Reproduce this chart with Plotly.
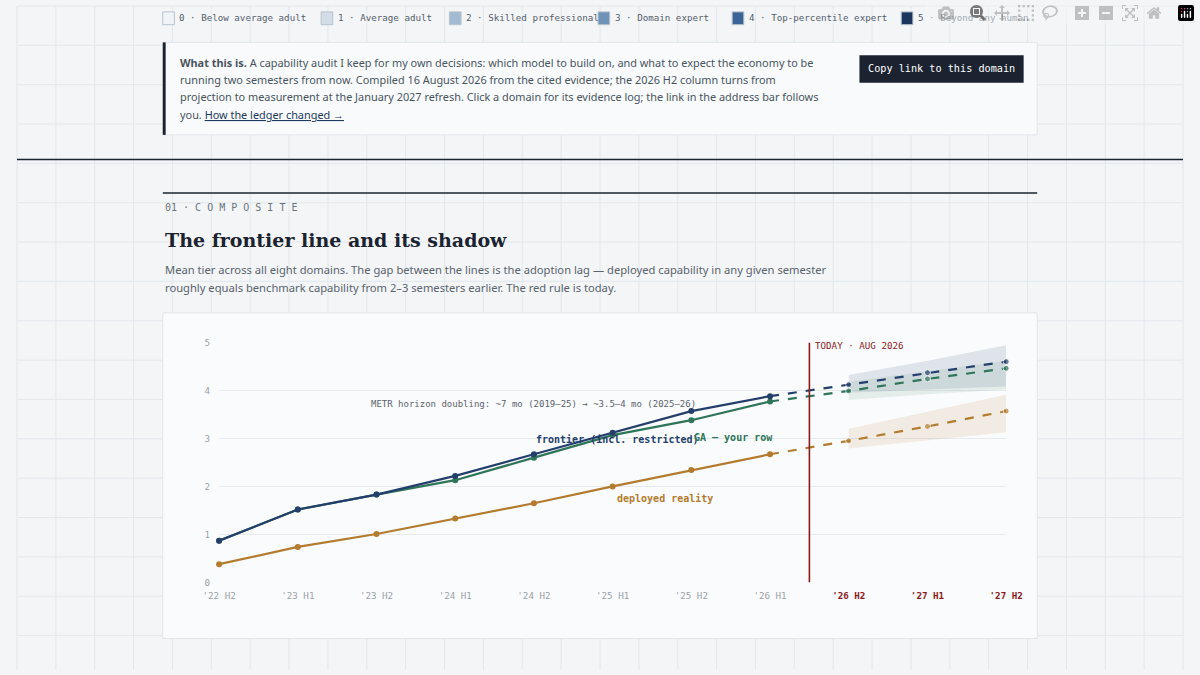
import plotly.graph_objects as go

# semesters
semesters = ["'22 H2", "'23 H1", "'23 H2", "'24 H1", "'24 H2", "'25 H1",
             "'25 H2", "'26 H1", "'26 H2", "'27 H1", "'27 H2"]
n_measured = 8  # '22 H2 .. '26 H1 measured, the rest projected

frontier = [0.87, 1.52, 1.83, 2.22, 2.67, 3.12, 3.57, 3.88, 4.12, 4.37, 4.60]
ga_row = [0.87, 1.52, 1.83, 2.13, 2.60, 3.07, 3.38, 3.77, 3.99, 4.24, 4.46]
deployed = [0.38, 0.74, 1.01, 1.33, 1.65, 2.00, 2.34, 2.67, 2.95, 3.25, 3.57]

# projection bands for '26 H2 .. '27 H2
frontier_lo = [3.95, 4.02, 4.08]
frontier_hi = [4.32, 4.62, 4.94]
ga_lo = [3.80, 3.92, 4.02]
ga_hi = [4.18, 4.40, 4.62]
deployed_lo = [2.79, 2.96, 3.13]
deployed_hi = [3.20, 3.55, 3.91]

tier_labels = ["0 · Below average adult", "1 · Average adult", "2 · Skilled professional",
               "3 · Domain expert", "4 · Top-percentile expert", "5 · Beyond any human"]
tier_colors = ["#f1f4f6", "#d3dde7", "#a2bad2", "#6f92b7", "#3b6496", "#1c355c"]

NAVY = "#243f6b"
GREEN = "#2e7559"
ORANGE = "#b37b2e"
RED = "#8c1c1c"
MONO = "DejaVu Sans Mono"
SANS = "Noto Sans"
SERIF = "DejaVu Serif"
W, H = 1200, 675


def px(x):
    return x / W


def py(y):
    return 1 - y / H


fig = go.Figure()
xs = list(range(len(semesters)))
proj_x = xs[n_measured:]

# bands
for lo, hi, col in [(frontier_lo, frontier_hi, "rgba(36,63,107,0.12)"),
                    (ga_lo, ga_hi, "rgba(46,117,89,0.10)"),
                    (deployed_lo, deployed_hi, "rgba(179,123,46,0.12)")]:
    fig.add_trace(go.Scatter(x=proj_x + proj_x[::-1], y=hi + lo[::-1], fill="toself",
                             fillcolor=col, line=dict(width=0), mode="lines",
                             hoverinfo="skip", showlegend=False))

for series, col in [(deployed, ORANGE), (ga_row, GREEN), (frontier, NAVY)]:
    fig.add_trace(go.Scatter(x=xs[:n_measured], y=series[:n_measured], mode="lines+markers",
                             line=dict(color=col, width=2.2), marker=dict(size=6, color=col),
                             showlegend=False, cliponaxis=False))
    fig.add_trace(go.Scatter(x=xs[n_measured - 1:], y=series[n_measured - 1:], mode="lines+markers",
                             line=dict(color=col, width=2.2, dash="dash"),
                             marker=dict(size=[0] + [6] * (len(xs) - n_measured), color=col),
                             showlegend=False, cliponaxis=False))

ticktext = [s if i < n_measured else f"<span style='color:{RED}'><b>{s}</b></span>"
            for i, s in enumerate(semesters)]

shapes = []
# page grid
for gx in range(0, W + 1, 40):
    shapes.append(dict(type="line", xref="paper", yref="paper", x0=px(gx), x1=px(gx), y0=0, y1=1,
                       line=dict(color="#e3e8ec", width=1), layer="below"))
for gy in range(0, H + 1, 40):
    shapes.append(dict(type="line", xref="paper", yref="paper", x0=0, x1=1, y0=py(gy), y1=py(gy),
                       line=dict(color="#e3e8ec", width=1), layer="below"))
# tier legend swatches
swatch_x = [150, 313, 445, 598, 736, 910]
for sx, c in zip(swatch_x, tier_colors):
    shapes.append(dict(type="rect", xref="paper", yref="paper", x0=px(sx), x1=px(sx + 12),
                       y0=py(19), y1=py(6), fillcolor=c, line=dict(color="#b9c3cc", width=1), layer="below"))
# info box
shapes += [
    dict(type="rect", xref="paper", yref="paper", x0=px(150), x1=px(1050), y0=py(131), y1=py(37),
         fillcolor="#f8fafb", line=dict(color="#e1e6ea", width=1), layer="below"),
    dict(type="rect", xref="paper", yref="paper", x0=px(150), x1=px(153), y0=py(131), y1=py(37),
         fillcolor="#1b2330", line=dict(width=0), layer="below"),
    dict(type="rect", xref="paper", yref="paper", x0=px(867), x1=px(1036), y0=py(78), y1=py(50),
         fillcolor="#1b2330", line=dict(width=0), layer="below"),
    dict(type="line", xref="paper", yref="paper", x0=0, x1=1, y0=py(156), y1=py(156),
         line=dict(color="#1b2330", width=1.5), layer="below"),
    dict(type="line", xref="paper", yref="paper", x0=px(150), x1=px(1050), y0=py(190), y1=py(190),
         line=dict(color="#1b2330", width=1.5), layer="below"),
    dict(type="rect", xref="paper", yref="paper", x0=px(150), x1=px(1050), y0=py(643), y1=py(312),
         fillcolor="#fafbfc", line=dict(color="#e1e6ea", width=1), layer="below"),
    dict(type="line", xref="x", yref="y", x0=7.5, x1=7.5, y0=0, y1=5.0,
         line=dict(color=RED, width=1.6)),
]

annotations = []
for sx, lab in zip(swatch_x, tier_labels):
    annotations.append(dict(xref="paper", yref="paper", x=px(sx + 15), y=py(12), text=lab,
                            showarrow=False, xanchor="left", yanchor="middle",
                            font=dict(family=MONO, size=9.2, color="#55606b")))
info_lines = [
    "<b>What this is.</b> A capability audit I keep for my own decisions: which model to build on, and what to expect the economy to be",
    "running two semesters from now. Compiled 16 August 2026 from the cited evidence; the 2026 H2 column turns from",
    "projection to measurement at the January 2027 refresh. Click a domain for its evidence log; the link in the address bar follows",
    "you. <span style='color:#1f3a60'><u>How the ledger changed →</u></span>",
]
for i, t in enumerate(info_lines):
    annotations.append(dict(xref="paper", yref="paper", x=px(166), y=py(57 + i * 17.7), text=t,
                            showarrow=False, xanchor="left", yanchor="middle",
                            font=dict(family=SANS, size=10.9, color="#4a545e")))
annotations += [
    dict(xref="paper", yref="paper", x=px(951), y=py(64), text="Copy link to this domain", showarrow=False,
         xanchor="center", yanchor="middle", font=dict(family=MONO, size=10.2, color="#ffffff")),
    dict(xref="paper", yref="paper", x=px(150), y=py(205), text="01 · C O M P O S I T E", showarrow=False,
         xanchor="left", yanchor="middle", font=dict(family=MONO, size=10, color="#6b747d")),
    dict(xref="paper", yref="paper", x=px(150), y=py(238), text="<b>The frontier line and its shadow</b>",
         showarrow=False, xanchor="left", yanchor="middle", font=dict(family=SERIF, size=19, color="#1b2330")),
    dict(xref="paper", yref="paper", x=px(150), y=py(268),
         text="Mean tier across all eight domains. The gap between the lines is the adoption lag — deployed capability in any given semester",
         showarrow=False, xanchor="left", yanchor="middle", font=dict(family=SANS, size=11.2, color="#5a636c")),
    dict(xref="paper", yref="paper", x=px(150), y=py(286),
         text="roughly equals benchmark capability from 2–3 semesters earlier. The red rule is today.",
         showarrow=False, xanchor="left", yanchor="middle", font=dict(family=SANS, size=11.2, color="#5a636c")),
    dict(x=7.55, y=4.93, text="TODAY · AUG 2026", showarrow=False, xanchor="left", yanchor="middle",
         font=dict(family=MONO, size=9.2, color=RED)),
    dict(x=3.99, y=3.72, text="METR horizon doubling: ~7 mo (2019–25) → ~3.5–4 mo (2025–26)", showarrow=False,
         font=dict(family=MONO, size=9, color="#5a636c")),
    dict(x=5.06, y=2.97, text="<b>frontier (incl. restricted)</b>", showarrow=False,
         font=dict(family=MONO, size=10, color=NAVY)),
    dict(x=6.54, y=3.02, text="<b>GA — your row</b>", showarrow=False,
         font=dict(family=MONO, size=10, color=GREEN)),
    dict(x=5.67, y=1.74, text="<b>deployed reality</b>", showarrow=False,
         font=dict(family=MONO, size=10, color=ORANGE)),
]

fig.update_layout(
    width=W, height=H, margin=dict(l=0, r=0, t=0, b=0),
    paper_bgcolor="#f3f5f7", plot_bgcolor="rgba(0,0,0,0)",
    shapes=shapes, annotations=annotations,
    xaxis=dict(domain=[px(208), px(1018)], range=[0, 10], tickvals=xs, ticktext=ticktext,
               showgrid=False, zeroline=False, showline=False, ticks="", ticklabelstandoff=6,
               tickfont=dict(family=MONO, size=9.2, color="#9aa2aa")),
    yaxis=dict(domain=[py(586), py(342)], range=[0, 5], tickvals=[0, 1, 2, 3, 4, 5],
               gridcolor="#e6eaee", zeroline=False, showline=False, ticks="", ticklabelstandoff=8,
               tickfont=dict(family=MONO, size=9.2, color="#9aa2aa")),
)

fig.write_html("out.html", post_script=(
    "document.body.style.margin='0';document.body.style.overflow='hidden';"
    "Plotly.Plots.resize(document.getElementById('{plot_id}'));"))
